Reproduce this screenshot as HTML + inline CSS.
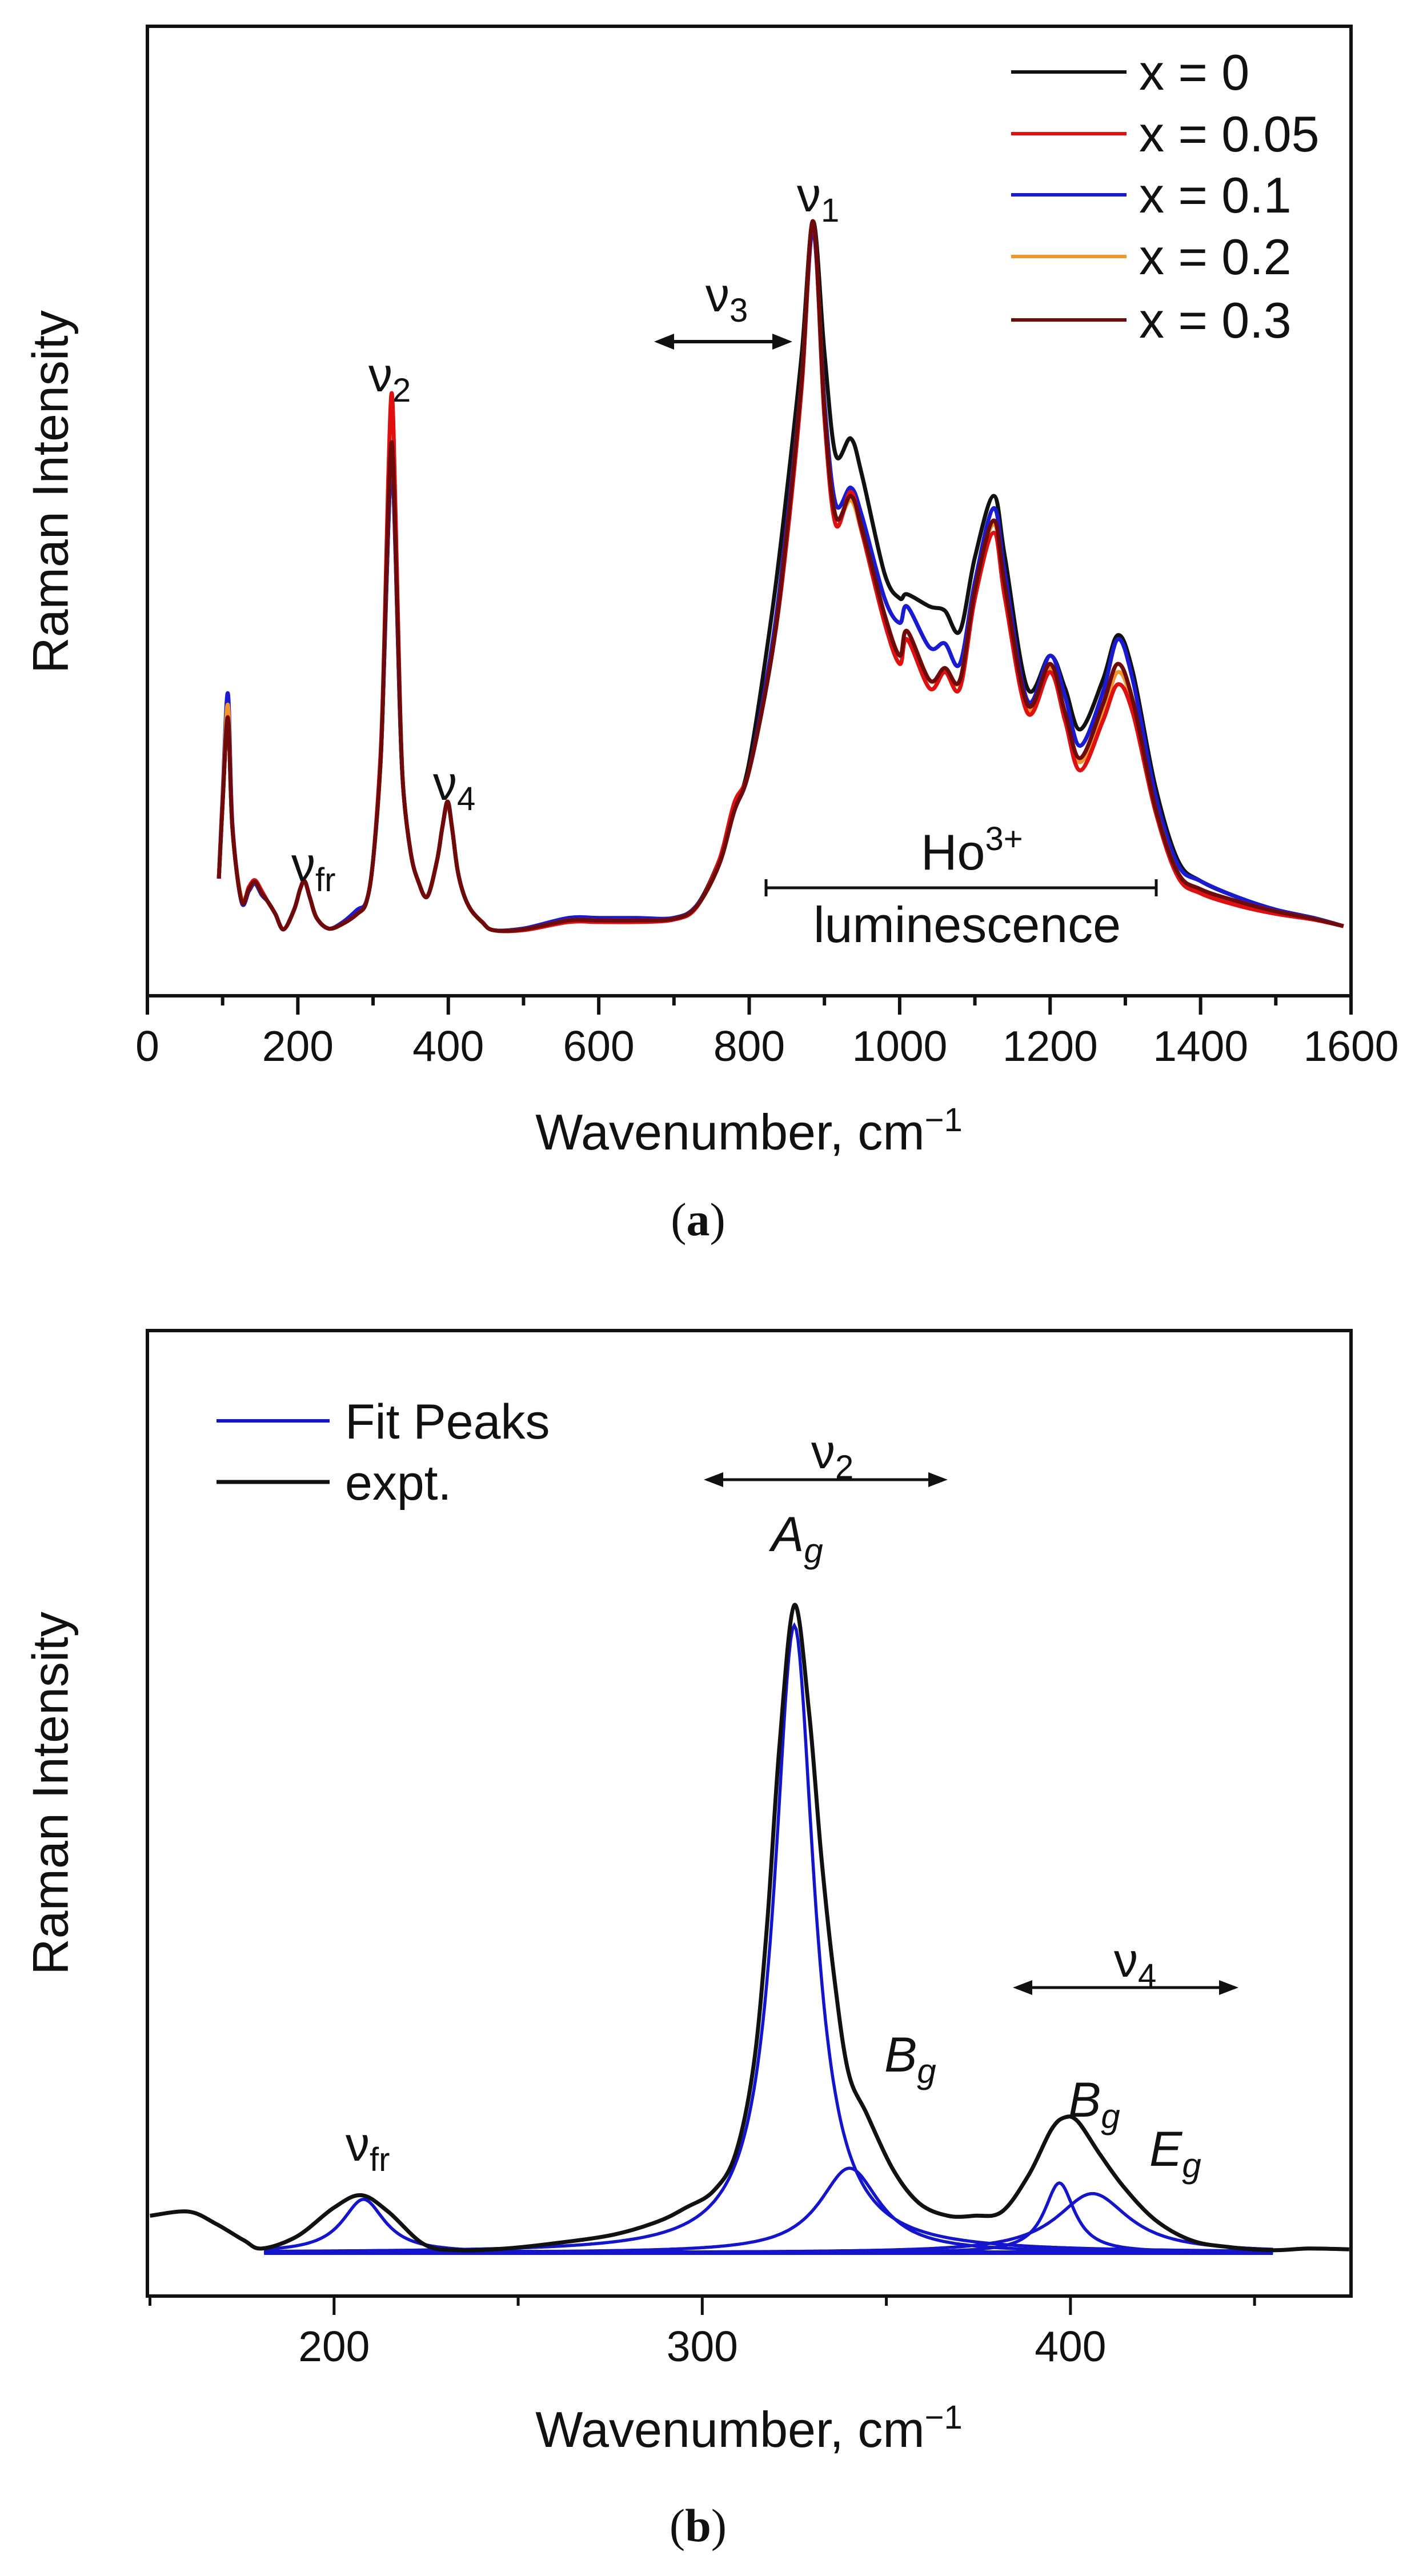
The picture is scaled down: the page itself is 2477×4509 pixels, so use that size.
<!DOCTYPE html>
<html><head><meta charset="utf-8"><style>
html,body{margin:0;padding:0;background:#fff}
svg{display:block}
text{font-family:"Liberation Sans",sans-serif;fill:#111}
</style></head><body>
<svg id="fig" width="2477" height="4509" viewBox="0 0 2477 4509" xmlns="http://www.w3.org/2000/svg">
<g id="pa"></g>
<g id="pb"></g>
</svg>
<script>
// ---------- Panel (a) data ----------
const aWavenumbers = [95,100,107,113,125,135,143,152,160,170,181,195,203,209,216,225,241,260,279,291,300,310,315,320,325,330,335,340,350,360,372,385,392,399,405,412,420,430,445,460,
500,560,600,650,700,730,760,780,800,830,850,870,885,900,915,935,950,980,1000,1010,1040,1060,1080,1100,1125,1140,1170,1200,1220,1240,1270,1290,1310,1340,1370,1400,1450,1500,1550,1590];
const aX0   = [5.8,15,25.5,12,3.1,4.5,5.4,4,3,1.5,-0.4,2,4.5,5.5,3.5,1,-0.3,0.3,1.5,2.9,8,20,33,48,57,45,28,17,9,5.5,3.6,8,12,15.2,12,7,4,2,0.5,-0.5,
-0.3,0.8,0.8,0.8,1,2.5,8,14,20,38,53,70,86,70,57.5,59.5,55,43,40,40.5,39,38.5,36,45,52.5,45,29,33,29,24,30,35.5,31,17,8,5.5,3.5,2,1,0];
const aX005 = [5.8,15,25.5,12,3.1,4.8,5.6,4.3,3,1.5,-0.4,2,4.5,5.5,3.5,1,-0.3,0.3,1.5,2.9,8,21,35,54,65,50,30,17,9,5.5,3.6,8,12,15,12,7,4,2,0.5,-0.5,
-0.5,0.5,0.5,0.5,0.8,2.3,8,15,19,33,47,66,86,62,49,53,48,37,32,35,29,31,29,40,48,40,26,31,25,19,25,29.5,26,14,6,4,2.5,1.5,0.8,0];
const aX01  = [5.8,16,28.4,12.5,3,4.3,5.2,3.8,3,1.5,-0.4,2,4.5,5.5,3.5,1,-0.3,0.5,2,3,8,20,33,48,57,45,28,17,9,5.5,3.6,8,12,15,12,7,4,2,0.5,-0.5,
-0.3,1,1,1,1,2.5,7.5,14,19,34,49,67,85,64,51.5,53.5,50,40,37,39,34,34.5,32,42,51,43,27.5,33,28,22,28.5,35,30,16,7.5,5.5,3.5,2,1,0];
const aX02  = [5.8,15.5,27,12,3.5,4.5,5.4,4,3,1.5,-0.4,2,4.5,5.5,3.5,1,-0.3,0.3,1.5,2.9,8,20,34,50,59,46,29,17,9,5.5,3.6,8,12,15.2,12,7,4,2,0.5,-0.5,
-0.4,0.7,0.7,0.7,0.9,2.4,7.5,14,19,33,48,67,86,63,50,52,48,38,33,36,30,31,30,41,49,41,26.5,31.5,25.5,20,26,31,27,14.5,6.5,4.5,3,1.8,0.9,0];
const aX03  = [5.8,15,25.4,12,3.1,4.5,5.4,4,3,1.5,-0.4,2,4.5,5.5,3.5,1,-0.3,0.3,1.5,2.9,8,20,34,50,59,46,29,17,9,5.5,3.6,8,12,15.2,12,7,4,2,0.5,-0.5,
-0.4,0.7,0.7,0.7,0.9,2.4,7.5,14,19,33,48,67,86,63,50,52.5,48.5,38,33,36,30,31.5,30,41,49.5,41.5,27,32,26,20.5,27,32,27.5,14.5,6.5,4.5,3,1.8,0.9,0];
const aSeriesNames  = ["x = 0","x = 0.05","x = 0.1","x = 0.2","x = 0.3"];
const aSeriesColors = ["#111111","#e01010","#1a1ad0","#f0962a","#6e0a0a"];
const aXTicks = [0,200,400,600,800,1000,1200,1400,1600];

// ---------- Panel (b) data ----------
const bWavenumbers = [150,160.5,168,175.5,180.4,190,200,207.4,214.7,224.5,234,246.6,261,276,288,295.6,303,309,314,317.6,321,325,329,332.4,336,339.7,344.6,352,359,366.7,374,381.4,388.7,394.8,398.5,402,408,414.5,423,432.8,442.6,454.9,464.7,475.7];
const bExpt = [4.5,5,3.5,1.5,0.5,2,5.5,7,5,1,0.3,0.5,1.2,2.2,3.8,5.5,7.5,12,23,40,62,79,66,48,33,22,17,10,6,4.5,4.5,5,9.5,15,16.5,16,12,8,4,1.5,0.7,0.3,0.5,0.4];
const bPeakNames   = ["nu-fr","Ag","Bg-340","Bg-397","Eg-406"];
const bPeakCenters = [208,325,340,397,406];
const bPeakHeights = [6.5,76.5,10.3,8.5,7.2];
const bPeakHWHM    = [7,6.5,10,5,12];
const bFitRange    = [181,455];
const bXTicks = [200,300,400];

const NS="http://www.w3.org/2000/svg";
function mk(parent,tag,attrs){const e=document.createElementNS(NS,tag);for(const k in attrs)e.setAttribute(k,attrs[k]);parent.appendChild(e);return e;}
function smoothPath(P){
  let d='M'+P[0][0].toFixed(1)+' '+P[0][1].toFixed(1);
  for(let i=0;i<P.length-1;i++){
    const p0=P[Math.max(0,i-1)],p1=P[i],p2=P[i+1],p3=P[Math.min(P.length-1,i+2)];
    const c1=[p1[0]+(p2[0]-p0[0])/6,p1[1]+(p2[1]-p0[1])/6];
    const c2=[p2[0]-(p3[0]-p1[0])/6,p2[1]-(p3[1]-p1[1])/6];
    d+=' C'+c1[0].toFixed(1)+' '+c1[1].toFixed(1)+' '+c2[0].toFixed(1)+' '+c2[1].toFixed(1)+' '+p2[0].toFixed(1)+' '+p2[1].toFixed(1);
  }
  return d;
}

// ---------- Panel (a) ----------
const pa=document.getElementById('pa');
const aL=258,aR=2365,aT=46,aB=1743;
const ax=w=>aL+(w-0)/(1600-0)*(aR-aL);
const ay=v=>aB-(v-(-8.5))/(109.8-(-8.5))*(aB-aT);
const aSeries=[aX0,aX005,aX01,aX02,aX03];
const drawOrder=[0,2,3,1,4];
drawOrder.forEach(i=>{
  const P=aWavenumbers.map((w,j)=>[ax(w),ay(aSeries[i][j])]);
  const p=mk(pa,'path',{d:smoothPath(P),fill:'none',stroke:aSeriesColors[i],'stroke-width':7,'stroke-linejoin':'round'});
  
  
});
const fa=mk(pa,'rect',{x:aL,y:aT,width:aR-aL,height:aB-aT,fill:'none',stroke:'#111','stroke-width':6});


for(let w=0;w<=1600;w+=100){
  const major=w%200===0;
  const t=mk(pa,'line',{x1:ax(w),x2:ax(w),y1:aB,y2:aB+(major?33:17),stroke:'#111','stroke-width':6});
  
  
}
aXTicks.forEach(w=>{
  const t=mk(pa,'text',{x:ax(w),y:1857,'font-size':75,'text-anchor':'middle'});
  t.textContent=w;
  
  
});
aSeriesNames.forEach((n,i)=>{
  const y=[126,234,341,449,560][i];
  const l=mk(pa,'line',{x1:1770,x2:1972,y1:y,y2:y,stroke:aSeriesColors[i],'stroke-width':6});
  
  
  const t=mk(pa,'text',{x:1994,y:y+31,'font-size':88});
  t.textContent=n;
  
  
});
</script>
<script>
(function(){
const pa=document.getElementById('pa');
pa.insertAdjacentHTML('beforeend',`
<text x="95" y="861" font-size="88" text-anchor="middle" transform="rotate(-90 95 861)" dominant-baseline="middle">Raman Intensity</text>
<text x="1311" y="2012" font-size="88" text-anchor="middle">Wavenumber, cm<tspan dy="-32" font-size="58">−1</tspan></text>
<text x="1222" y="2162" font-size="82" text-anchor="middle" style="font-family:'Liberation Serif',serif">(<tspan font-weight="bold">a</tspan>)</text>
<text x="1395" y="370" font-size="84">ν<tspan dy="18" font-size="58">1</tspan></text>
<text x="1235" y="545" font-size="84">ν<tspan dy="18" font-size="58">3</tspan></text>
<g stroke="#111" stroke-width="6" fill="#111">
<line x1="1170" y1="598" x2="1362" y2="598"/>
<polygon points="1145,598 1180,584 1180,612" stroke="none"/>
<polygon points="1387,598 1352,584 1352,612" stroke="none"/>
</g>
<text x="645" y="685" font-size="84">ν<tspan dy="18" font-size="58">2</tspan></text>
<text x="758" y="1400" font-size="84">ν<tspan dy="18" font-size="58">4</tspan></text>
<text x="510" y="1542" font-size="84">ν<tspan dy="18" font-size="58">fr</tspan></text>
<text x="1612" y="1522" font-size="88">Ho<tspan dy="-34" font-size="58">3+</tspan></text>
<g stroke="#111" stroke-width="5">
<line x1="1341" y1="1554" x2="2024" y2="1554"/><line x1="1341" y1="1539" x2="1341" y2="1569"/><line x1="2024" y1="1539" x2="2024" y2="1569"/>
</g>
<text x="1693" y="1649" font-size="88" text-anchor="middle">luminescence</text>
`);
})();

// ---------- Panel (b) ----------
(function(){
const pb=document.getElementById('pb');
const bL=258,bR=2365,bT=2329,bB=4019;
const bx=w=>bL+(w-149.3)/(476.2-149.3)*(bR-bL);
const by=v=>bB-(v-(-5.3))/(112.5-(-5.3))*(bB-bT);
const base=mk(pb,'line',{x1:bx(bFitRange[0]),x2:bx(bFitRange[1]),y1:by(0),y2:by(0),stroke:'#1414cc','stroke-width':8});


bPeakCenters.forEach((c,i)=>{
  const pts=[];
  for(let w=bFitRange[0];w<=bFitRange[1];w+=0.5){
    const g=bPeakHWHM[i];
    const v=bPeakHeights[i]*g*g/((w-c)*(w-c)+g*g);
    pts.push((pts.length?'L':'M')+bx(w).toFixed(1)+' '+by(v).toFixed(1));
  }
  const p=mk(pb,'path',{d:pts.join(' '),fill:'none',stroke:'#1414cc','stroke-width':5.5});
  
  
});
const P=bWavenumbers.map((w,j)=>[bx(w),by(bExpt[j])]);
const e=mk(pb,'path',{d:smoothPath(P),fill:'none',stroke:'#111','stroke-width':7,'stroke-linejoin':'round'});


const fb=mk(pb,'rect',{x:bL,y:bT,width:bR-bL,height:bB-bT,fill:'none',stroke:'#111','stroke-width':6});


for(let w=150;w<=475;w+=50){
  const major=w%100===0;
  const t=mk(pb,'line',{x1:bx(w),x2:bx(w),y1:bB,y2:bB+(major?33:17),stroke:'#111','stroke-width':5});
  
  
}
bXTicks.forEach(w=>{
  const t=mk(pb,'text',{x:bx(w),y:4133,'font-size':75,'text-anchor':'middle'});
  t.textContent=w;
  
  
});
pb.insertAdjacentHTML('beforeend',`
<line x1="379" x2="577" y1="2487" y2="2487" stroke="#1414cc" stroke-width="6"/>
<text x="604" y="2518" font-size="86">Fit Peaks</text>
<line x1="379" x2="577" y1="2594" y2="2594" stroke="#111" stroke-width="7"/>
<text x="604" y="2625" font-size="86">expt.</text>
<text x="95" y="3139" font-size="88" text-anchor="middle" transform="rotate(-90 95 3139)" dominant-baseline="middle">Raman Intensity</text>
<text x="1311" y="4283" font-size="88" text-anchor="middle">Wavenumber, cm<tspan dy="-32" font-size="58">−1</tspan></text>
<text x="1222" y="4448" font-size="82" text-anchor="middle" style="font-family:'Liberation Serif',serif">(<tspan font-weight="bold">b</tspan>)</text>
<text x="1420" y="2570" font-size="84">ν<tspan dy="18" font-size="58">2</tspan></text>
<g stroke="#111" stroke-width="5" fill="#111">
<line x1="1255" y1="2590" x2="1636" y2="2590"/>
<polygon points="1232,2590 1266,2577 1266,2603" stroke="none"/>
<polygon points="1659,2590 1625,2577 1625,2603" stroke="none"/>
</g>
<text x="1350" y="2715" font-size="86" font-style="italic">A<tspan dy="20" font-size="60">g</tspan></text>
<text x="1548" y="3626" font-size="86" font-style="italic">B<tspan dy="20" font-size="60">g</tspan></text>
<text x="1950" y="3460" font-size="84">ν<tspan dy="18" font-size="58">4</tspan></text>
<g stroke="#111" stroke-width="5" fill="#111">
<line x1="1796" y1="3479" x2="2145" y2="3479"/>
<polygon points="1773,3479 1807,3466 1807,3492" stroke="none"/>
<polygon points="2168,3479 2134,3466 2134,3492" stroke="none"/>
</g>
<text x="1870" y="3705" font-size="86" font-style="italic">B<tspan dy="20" font-size="60">g</tspan></text>
<text x="2012" y="3791" font-size="86" font-style="italic">E<tspan dy="20" font-size="60">g</tspan></text>
<text x="605" y="3782" font-size="84">ν<tspan dy="18" font-size="58">fr</tspan></text>
`);
})();
</script>
</body></html>
